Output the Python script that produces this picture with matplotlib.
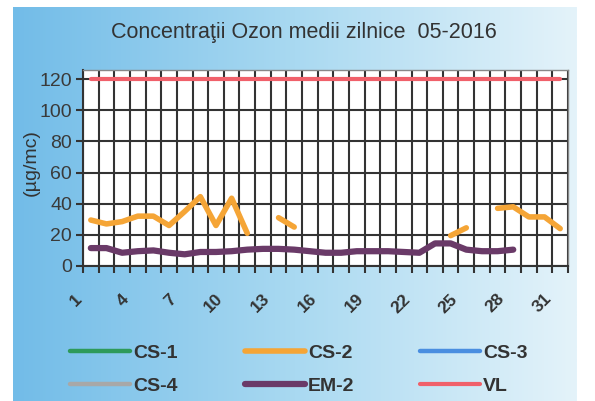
import numpy as np
import matplotlib
matplotlib.use('Agg')
import matplotlib.pyplot as plt
import matplotlib.transforms as mtransforms
from matplotlib.colors import LinearSegmentedColormap

plt.rcParams['font.family'] = ['Liberation Sans', 'DejaVu Sans']

# date (zilele lunii mai 2016)
zile = np.arange(1, 32)
nan = np.nan
cs2 = [29.5, 27, 28.5, 32, 32, 26, 35, 44.5, 26, 43.5, 21, nan, 31, 25, nan, nan,
       nan, nan, nan, nan, nan, nan, nan, 19.5, 24.5, nan, 37, 38, 31.5, 31.5, 24]
em2 = [11.5, 11.5, 8.5, 9.5, 10, 8.5, 7.5, 9, 9, 9.5, 10.5, 11, 11, 10.5, 9.5, 8.5,
       8.5, 9.5, 9.5, 9.5, 9, 8.5, 14.5, 14.5, 10.5, 9.5, 9.5, 10.5, nan, nan, nan]
vl = [120] * 31
cs1 = [nan] * 31
cs3 = [nan] * 31
cs4 = [nan] * 31
etichete_x = [1, 4, 7, 10, 13, 16, 19, 22, 25, 28, 31]
valori_y = [0, 20, 40, 60, 80, 100, 120]

fig = plt.figure(figsize=(5.95, 4.01), dpi=100)

# fundal cu gradient albastru
fundal = fig.add_axes([13 / 595, 0, (577 - 13) / 595, 1 - 7 / 401])
cmap = LinearSegmentedColormap.from_list('bg', ['#72bce8', '#a9d9f1', '#e4f3fa'])
grad = np.linspace(0, 1, 256).reshape(1, -1)
fundal.imshow(grad, aspect='auto', cmap=cmap, extent=[0, 1, 0, 1])
fundal.axis('off')
fundal.set_zorder(-1)

ax = fig.add_axes([83 / 595, 1 - 266 / 401, (568 - 83) / 595, (266 - 70) / 401])
ax.set_facecolor('white')

l1, = ax.plot(zile, cs1, color='#2e9a5a', lw=3.2, label='CS-1', solid_capstyle='round')
l2, = ax.plot(zile, cs2, color='#f5a536', lw=4, label='CS-2', solid_capstyle='round')
l3, = ax.plot(zile, cs3, color='#4a8ee0', lw=3.2, label='CS-3', solid_capstyle='round')
l4, = ax.plot(zile, cs4, color='#a8a8a8', lw=3.2, label='CS-4', solid_capstyle='round')
l5, = ax.plot(zile, em2, color='#6a3a68', lw=4.5, label='EM-2', solid_capstyle='round')
l6, = ax.plot(zile, vl, color='#f0606a', lw=3, label='VL', solid_capstyle='round')

ax.set_xlim(0.5, 31.5)
ax.set_ylim(0, 125.8)
ax.set_yticks(valori_y)
ax.set_yticklabels([str(v) for v in valori_y], fontsize=14, color='#3a3a3a')
ax.set_xticks(etichete_x)
ax.set_xticks(np.arange(0.5, 32, 1), minor=True)
ax.tick_params(axis='x', which='major', length=0, pad=22)
ax.tick_params(axis='x', which='minor', length=5, width=1.5, color='#333333')
ax.tick_params(axis='y', length=5, width=1.5, color='#333333', pad=3)
ax.set_xticklabels([str(v) for v in etichete_x], fontsize=12.5, fontweight='bold',
                   color='#333333', rotation=45, ha='right', va='center',
                   rotation_mode='anchor')
dx = mtransforms.ScaledTranslation(-11 / 100, 0, fig.dpi_scale_trans)
for lab in ax.get_xticklabels():
    lab.set_transform(lab.get_transform() + dx)
ax.grid(True, which='minor', axis='x', color='#333333', lw=1.5)
ax.grid(True, which='major', axis='y', color='#333333', lw=1.5)
ax.set_axisbelow(True)

for s in ['left', 'bottom']:
    ax.spines[s].set_color('#333333')
    ax.spines[s].set_linewidth(1.5)
for s in ['top', 'right']:
    ax.spines[s].set_color('#888888')
    ax.spines[s].set_linewidth(1)

ax.set_ylabel('(µg/mc)', fontsize=14, color='#333333')
ax.yaxis.set_label_coords(-0.089, 0.53)

fig.text(0.51, 0.92, 'Concentraţii Ozon medii zilnice  05-2016', ha='center',
         va='center', fontsize=15.5, color='#333333')

# legenda pe trei coloane, puse manual
coloane = [([l1, l4], 70), ([l2, l5], 245), ([l3, l6], 420)]
for linii, x0 in coloane:
    leg = fig.legend(handles=linii, loc='upper left', bbox_to_anchor=(x0 / 595, 0.141),
                     frameon=False, prop={'size': 14, 'weight': 'bold'},
                     handlelength=3.1, handletextpad=0.15, labelspacing=0.8,
                     borderpad=0, borderaxespad=0)
    for t in leg.get_texts():
        t.set_color('#333333')

fig.savefig('out.png', dpi=100)
